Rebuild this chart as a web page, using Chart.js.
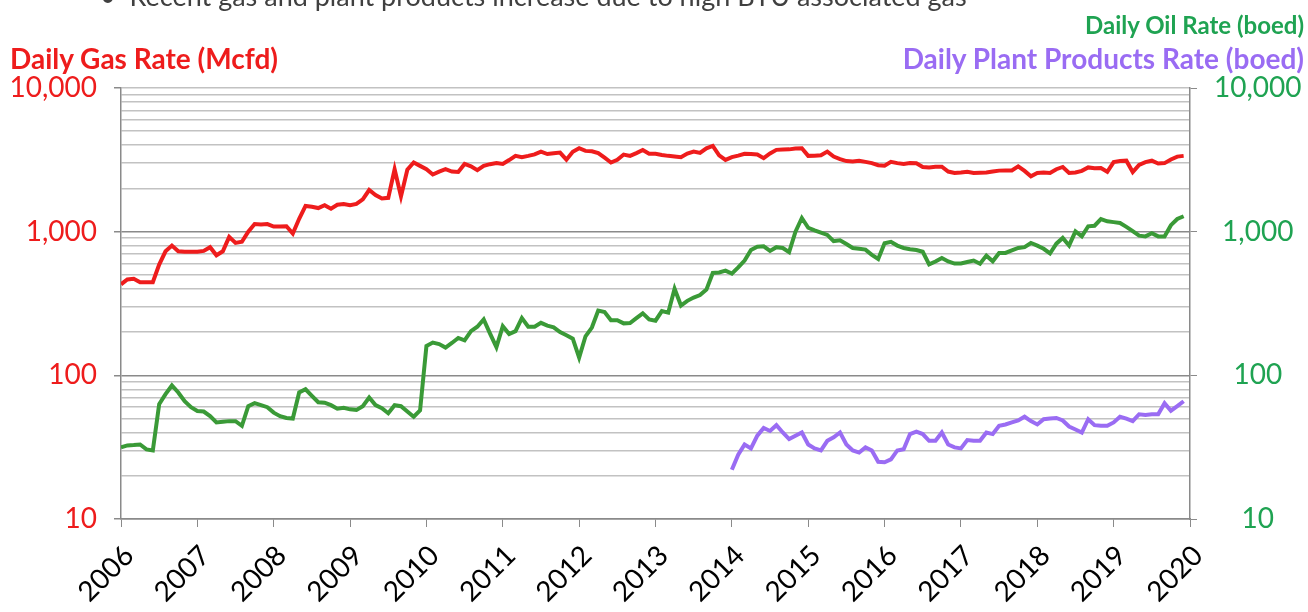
<!DOCTYPE html>
<html>
<head>
<meta charset="utf-8">
<script src="https://cdn.jsdelivr.net/npm/chart.js@4.4.1/dist/chart.umd.min.js"></script>
<style>
body{margin:0;background:#fff;font-family:Lato,sans-serif}
#wrap{position:relative;width:1308px;height:612px;overflow:hidden}
.t{position:absolute;white-space:nowrap;line-height:1}
</style>
</head>
<body>
<div id="wrap">
<canvas id="c" width="1308" height="612"></canvas>
<div class="t" style="left:100px;top:-18px;font-size:27px;color:#404040">•&nbsp;&nbsp;Recent gas and plant products increase due to high BTU associated gas</div>
<div class="t" style="left:10px;top:44px;font-size:28px;font-weight:bold;color:#ee1c1c">Daily Gas Rate (Mcfd)</div>
<div class="t" style="right:4px;top:13px;font-size:24px;font-weight:bold;color:#1fa352">Daily Oil Rate (boed)</div>
<div class="t" style="right:4px;top:44px;font-size:28px;font-weight:bold;color:#9a6cf3">Daily Plant Products Rate (boed)</div>
</div>
<script>
// monthly, Jan 2006 .. Dec 2019
const yearLabels = ['2006','2007','2008','2009','2010','2011','2012','2013','2014','2015','2016','2017','2018','2019','2020'];
const majorTicks = [10, 100, 1000, 10000];

const gas = [
  430,465,470,445,445,445,590,730,800,730,725,725,
  725,735,780,685,730,920,835,850,1000,1130,1120,1130,
  1085,1085,1090,970,1230,1510,1490,1460,1530,1445,1540,1560,
  1530,1560,1680,1950,1800,1700,1720,2720,1760,2700,3030,2870,
  2720,2500,2620,2720,2620,2600,2960,2850,2680,2870,2950,3000,
  2960,3150,3370,3300,3370,3450,3610,3470,3520,3550,3170,3600,
  3810,3650,3630,3520,3270,3030,3160,3440,3370,3520,3700,3490,
  3480,3420,3370,3340,3300,3500,3610,3530,3800,3950,3400,3160,
  3300,3380,3480,3470,3440,3250,3500,3710,3730,3740,3790,3810,
  3370,3380,3400,3610,3330,3200,3100,3080,3120,3060,3000,2900,
  2880,3060,3000,2960,3000,2990,2820,2800,2830,2830,2620,2560,
  2580,2610,2560,2570,2580,2620,2660,2670,2670,2850,2650,2430,
  2560,2580,2560,2720,2820,2560,2580,2650,2800,2760,2770,2610,
  3050,3100,3120,2600,2920,3050,3120,2980,3000,3180,3330,3370
];

const oil = [
  31.5,32.5,32.7,33,30.5,30,63,74,85,76,66,60,
  56.5,56,52,47,47.5,48,48,44.5,61,64,62,60,
  55,52,50.5,50,76,80,72,65,64.5,62,58.5,59.5,
  58,57.5,61,70,62,59,54.5,62,61,56,51.5,57,
  160,169,165,156,168,182,175,203,218,245,195,157,
  220,194,203,250,218,218,232,222,216,200,190,180,
  133,187,215,282,276,242,242,230,231,250,270,245,
  240,280,273,400,306,330,348,362,395,516,520,535,
  510,565,630,745,785,790,735,780,770,720,1000,1245,
  1065,1020,985,950,860,870,820,770,760,750,690,646,
  830,850,800,770,755,745,725,592,620,656,620,600,
  600,615,630,598,681,622,711,711,740,770,780,834,
  800,760,705,825,904,802,1004,927,1090,1100,1225,1180,
  1165,1150,1080,1010,938,927,975,927,927,1110,1225,1280
];

// plant products start Jan 2014 (month 96)
const plantStart = 96;
const plant = [
  22,28,33,31,38,43,41,45,40,36,38,40,
  33,31,30,35,37,40,33,30,29,31.5,30,25,
  24.8,26,30,30.6,39,40.5,39,35,35,40,33,31.5,
  31,35.4,35,35,40,39,44.5,45.5,47,48.5,51.5,48,
  45.5,49.5,50,50.5,48.5,44,42,40,49.5,45,44.5,44.5,
  47,51.5,50,48,53.6,53,53.5,53.6,64,56.7,61,66
];

const RED = '#ee1c1c', GREEN = '#1fa352', OIL = '#3a9a37', PURPLE = '#9a6cf3';
const isMajor = v => majorTicks.includes(v);

function logTicks(scale){
  const t = [];
  for (let d = 10; d < 10000; d *= 10) for (let k = 1; k < 10; k++) t.push({value: d * k, major: k === 1});
  t.push({value: 10000, major: true});
  scale.ticks = t;
}
const fmt = v => isMajor(v) ? v.toLocaleString('en-US') : '';

new Chart(document.getElementById('c'), {
  type: 'line',
  data: {
    datasets: [
      {data: gas.map((v,i)=>({x:i, y:v})), borderColor: RED, yAxisID: 'y'},
      {data: oil.map((v,i)=>({x:i, y:v})), borderColor: OIL, yAxisID: 'y2'},
      {data: plant.map((v,k)=>({x:plantStart+k, y:v})), borderColor: PURPLE, yAxisID: 'y2'}
    ]
  },
  options: {
    responsive: false,
    animation: false,
    layout: {padding: {top: 88}},
    elements: {line: {borderWidth: 4, tension: 0}, point: {radius: 0}},
    plugins: {legend: {display: false}, tooltip: {enabled: false}},
    scales: {
      x: {
        type: 'linear', min: 0, max: 168,
        afterFit: s => { s.height = 93; },
        border: {color: '#8a8a8a', width: 1.5},
        grid: {drawOnChartArea: false, tickLength: 8, color: '#8a8a8a'},
        ticks: {
          stepSize: 12, autoSkip: false, maxRotation: 45, minRotation: 45, padding: 12, labelOffset: 8,
          color: '#000', font: {family: 'Lato', size: 28},
          callback: v => yearLabels[v / 12]
        }
      },
      y: {
        type: 'logarithmic', position: 'left', min: 10, max: 10000,
        afterBuildTicks: logTicks,
        afterFit: s => { s.width = 121; },
        border: {color: '#8a8a8a', width: 1.5},
        grid: {
          color: c => isMajor(c.tick.value) && c.tick.value !== 10000 ? '#8a8a8a' : '#c2c2c2',
          lineWidth: 1.5,
          tickLength: 7,
          tickColor: c => isMajor(c.tick.value) ? '#8a8a8a' : 'rgba(0,0,0,0)'
        },
        ticks: {autoSkip: false, padding: 17, color: RED, font: {family: 'Lato', size: 28}, callback: fmt}
      },
      y2: {
        type: 'logarithmic', position: 'right', min: 10, max: 10000,
        afterBuildTicks: logTicks,
        afterFit: s => { s.width = 118; },
        border: {color: '#8a8a8a', width: 1.5},
        grid: {
          drawOnChartArea: false, tickLength: 7,
          tickColor: c => isMajor(c.tick.value) ? '#8a8a8a' : 'rgba(0,0,0,0)'
        },
        ticks: {autoSkip: false, padding: 17, crossAlign: 'center', color: GREEN, font: {family: 'Lato', size: 28}, callback: fmt}
      }
    }
  }
});
</script>
</body>
</html>
